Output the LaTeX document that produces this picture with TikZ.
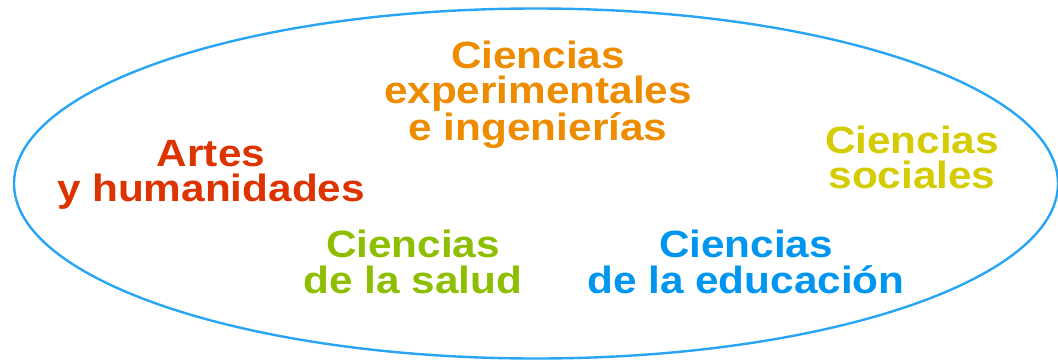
\documentclass[tikz,border=0pt]{standalone}
\usepackage{fontspec}
\setmainfont{Liberation Sans}
\usepackage{tikz}

\definecolor{bordeazul}{RGB}{40,165,245}
\definecolor{ramanaranja}{RGB}{238,140,0}
\definecolor{ramarojo}{RGB}{221,51,0}
\definecolor{ramaamarillo}{RGB}{212,204,0}
\definecolor{ramaverde}{RGB}{141,190,0}
\definecolor{ramaazul}{RGB}{0,150,240}

\tikzset{rama/.style={font=\bfseries\fontsize{38}{35.5}\selectfont, align=center, inner sep=0pt, xscale=1.113}}

\begin{document}
\begin{tikzpicture}[x=1pt,y=1pt]
\useasboundingbox (0,0) rectangle (1058,360);

\draw[line width=2.4pt, bordeazul] (536,176.5) ellipse [x radius=522, y radius=175];

\node[rama, text=ramanaranja] (experimentales) at (538,265.3) {Ciencias\\experimentales\\e ingenierías};
\node[rama, text=ramarojo] (artes) at (211,185.3) {Artes\\y humanidades};
\node[rama, text=ramaamarillo] (sociales) at (912,202.6) {Ciencias\\sociales};
\node[rama, text=ramaverde] (salud) at (413,98) {Ciencias\\de la salud};
\node[rama, text=ramaazul] (educacion) at (746,98) {Ciencias\\de la educación};
\end{tikzpicture}
\end{document}
